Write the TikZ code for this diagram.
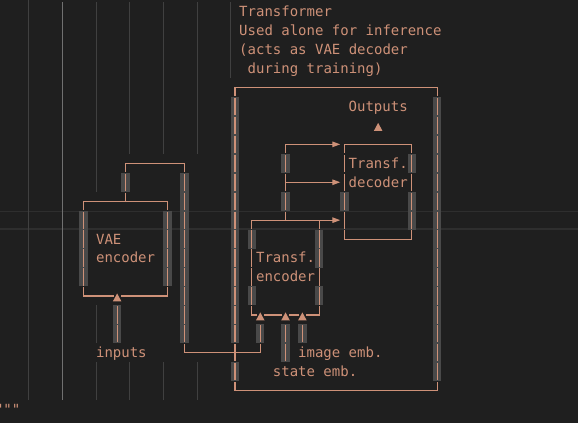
\documentclass[tikz,border=0pt]{standalone}
\usepackage{fontspec}
\newfontfamily\codefont{DejaVu Sans Mono}
\usetikzlibrary{arrows.meta}
\definecolor{bg}{HTML}{1F1F1F}
\definecolor{str}{HTML}{CE9178}
\definecolor{selhl}{HTML}{494949}
\definecolor{guide}{HTML}{404040}
\definecolor{guideact}{HTML}{707070}
\definecolor{curline}{HTML}{2E2E2E}
\begin{document}
\begin{tikzpicture}[x=8.42pt,y=-18.95pt,
  hl/.style={draw=str,line width=1.2pt,line cap=rect},
  vl/.style={draw=str,line width=1.2pt,dash pattern=on 17.25pt off 1.7pt,dash phase=8.625pt},
  vlb/.style={vl,dash phase=18.1pt},
  arr/.style={draw=str,line width=1.2pt,-{Triangle[length=8pt,width=5.5pt]}},
  txt/.style={text=str,font=\codefont\fontsize{14pt}{18.95pt}\selectfont,inner sep=0pt,outer sep=0pt,anchor=base west},
  gbar/.style={fill=selhl},
  iguide/.style={draw=guide,line width=1pt},
  aguide/.style={draw=guideact,line width=1pt},
  uptri/.pic={\fill[str] (0pt,2.5pt) -- (4.3pt,-5.5pt) -- (-4.3pt,-5.5pt) -- cycle;}]
\fill[bg] (0pt,0pt) rectangle (578pt,-423pt);
\useasboundingbox (0pt,0pt) rectangle (578pt,-423pt);
\clip (0pt,0pt) rectangle (578pt,-423pt);
% current line highlight border
\draw[curline,line width=1.5pt] (0pt,-211.4pt) -- (578pt,-211.4pt);
\draw[curline,line width=1.5pt] (0pt,-228.9pt) -- (578pt,-228.9pt);
\begin{scope}[shift={(-0.74pt,-11.7pt)}]
% indent guides
\foreach \k/\a/\b in {4/-1/20, 12/0/9, 12/16/17, 12/19/20, 16/0/7, 16/19/20, 20/0/7, 20/19/20, 24/0/7, 24/19/20, 28/0/3}
  \draw[iguide] (\k-0.5,\a-0.5) -- (\k-0.5,\b+0.5);
\draw[aguide] (7.5,-0.5) -- (7.5,20.5);
% selection highlights behind the vertical bars
\foreach \c/\a/\b in {15/9/9, 22/9/17, 10/11/14, 20/11/14, 14/16/17, 28/5/17, 28/19/19, 52/5/19, 34/8/8, 34/10/10, 41/10/10, 49/8/8, 49/10/11, 30/12/12, 30/15/15, 38/12/13, 38/15/15, 31/17/17, 34/17/18, 36/17/17}
  \fill[gbar] (\c-0.5,\a-0.5) rectangle (\c+0.5,\b+0.5);
% corner / junction coordinates
\coordinate (bigTL) at (28,4);  \coordinate (bigTR) at (52,4);
\coordinate (bigBL) at (28,20); \coordinate (bigBR) at (52,20);
\coordinate (lnkTL) at (15,8);  \coordinate (lnkTR) at (22,8);
\coordinate (lnkJ) at (15,10);  \coordinate (lnkBL) at (22,18);
\coordinate (lnkBR) at (31,18); \coordinate (lnkUp) at (31,16.5);
\coordinate (vaeTL) at (10,10); \coordinate (vaeTR) at (20,10);
\coordinate (vaeBL) at (10,15); \coordinate (vaeBR) at (20,15);
\coordinate (inTri) at (14,15); \coordinate (inTop) at (14,15.5); \coordinate (inBot) at (14,17.5);
\coordinate (decTL) at (41,7);  \coordinate (decTR) at (49,7);
\coordinate (decBL) at (41,12); \coordinate (decBR) at (49,12);
\coordinate (outTri) at (45,6);
\coordinate (busT) at (34,7); \coordinate (busM) at (34,9); \coordinate (busB) at (34,11);
\coordinate (arrA) at (40.5,7); \coordinate (arrB) at (40.5,9); \coordinate (arrC) at (40.5,11);
\coordinate (encTL) at (30,11); \coordinate (encTR) at (38,11);
\coordinate (encBL) at (30,16); \coordinate (encBR) at (38,16);
\coordinate (triA) at (31,16); \coordinate (triB) at (34,16); \coordinate (triC) at (36,16);
\coordinate (stTop) at (34,16.5); \coordinate (stBot) at (34,18.5);
\coordinate (imTop) at (36,16.5); \coordinate (imBot) at (36,17.5);
% outer transformer box
\draw[hl] (bigTL) -- (bigTR);
\draw[hl] (bigBL) -- (bigBR);
\draw[vl] (bigTL) -- (bigBL);
\draw[vl] (bigTR) -- (bigBR);
% VAE encoder box
\draw[hl] (vaeTL) -- (vaeTR);
\draw[hl] (vaeBL) -- ([xshift=-4.21pt]inTri);
\draw[hl] ([xshift=4.21pt]inTri) -- (vaeBR);
\draw[vl] (vaeTL) -- (vaeBL);
\draw[vl] (vaeTR) -- (vaeBR);
\pic at (inTri) {uptri};
\draw[vlb] (inTop) -- (inBot);
% link from VAE encoder to transformer encoder
\draw[hl] (lnkTL) -- (lnkTR);
\draw[vl] (lnkTL) -- (lnkJ);
\draw[vl] (lnkTR) -- (lnkBL);
\draw[hl] (lnkBL) -- (lnkBR);
\draw[vlb] (lnkUp) -- (lnkBR);
% transformer decoder box
\draw[hl] (decTL) -- (decTR);
\draw[hl] (decBL) -- (decBR);
\draw[vl] (decTL) -- (decBL);
\draw[vl] (decTR) -- (decBR);
\pic at (outTri) {uptri};
% bus into decoder
\draw[vl] (busT) -- (busB);
\draw[arr] (busT) -- (arrA);
\draw[arr] (busM) -- (arrB);
\draw[arr] (encTL) -- (arrC);
% transformer encoder box
\draw[vl] (encTL) -- (encBL);
\draw[vl] (encTR) -- (encBR);
\draw[hl] (encBL) -- ([xshift=-4.21pt]triA);
\draw[hl] ([xshift=4.21pt]triA) -- ([xshift=-4.21pt]triB);
\draw[hl] ([xshift=4.21pt]triB) -- ([xshift=-4.21pt]triC);
\draw[hl] ([xshift=4.21pt]triC) -- (encBR);
\pic at (triA) {uptri};
\pic at (triB) {uptri};
\pic at (triC) {uptri};
\draw[vlb] (stTop) -- (stBot);
\draw[vlb] (imTop) -- (imBot);
% texts
\node[txt] (title1) at (28.5,0.2586) {Transformer};
\node[txt] (title2) at (28.5,1.2586) {Used alone for inference};
\node[txt] (title3) at (28.5,2.2586) {(acts as VAE decoder};
\node[txt] (title4) at (29.5,3.2586) {during training)};
\node[txt] (outputs) at (41.5,5.2586) {Outputs};
\node[txt] (dec1) at (41.5,8.2586) {Transf.};
\node[txt] (dec2) at (41.5,9.2586) {decoder};
\node[txt] (vae1) at (11.5,12.2586) {VAE};
\node[txt] (vae2) at (11.5,13.2586) {encoder};
\node[txt] (enc1) at (30.5,13.2586) {Transf.};
\node[txt] (enc2) at (30.5,14.2586) {encoder};
\node[txt] (inputs) at (11.5,18.2586) {inputs};
\node[txt] (imgemb) at (35.5,18.2586) {image emb.};
\node[txt] (stateemb) at (32.5,19.2586) {state emb.};
\node[txt] (quotes) at (-0.5,21.2586) {"""};
\end{scope}
\end{tikzpicture}
\end{document}
